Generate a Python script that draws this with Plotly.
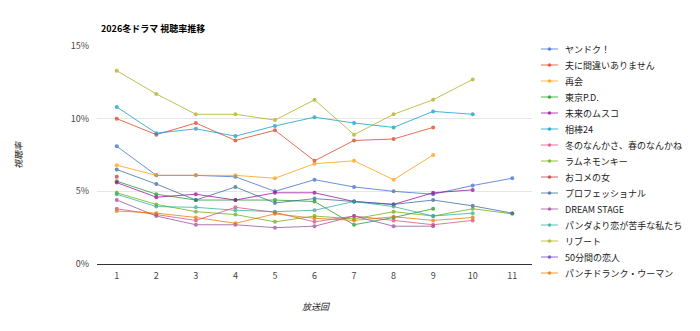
import plotly.graph_objects as go

episodes = list(range(1, 12))

names = ["ヤンドク！", "夫に間違いありません", "再会", "東京P.D.", "未来のムスコ", "相棒24",
         "冬のなんかさ、春のなんかね", "ラムネモンキー", "おコメの女", "プロフェッショナル",
         "DREAM STAGE", "パンダより恋が苦手な私たち", "リブート", "50分間の恋人", "パンチドランク・ウーマン"]

colors = ["#3366cc", "#dc3912", "#ff9900", "#109618", "#990099", "#0099c6",
          "#dd4477", "#66aa00", "#b82e2e", "#316395", "#994499", "#22aa99",
          "#aaaa11", "#6633cc", "#e67300"]

yandoku = [8.1, 6.1, 6.1, 6.0, 5.0, 5.8, 5.3, 5.0, 4.8, 5.4, 5.9]
otto = [10.0, 8.9, 9.7, 8.5, 9.2, 7.1, 8.5, 8.6, 9.4]
saikai = [6.8, 6.1, 6.1, 6.1, 5.9, 6.9, 7.1, 5.8, 7.5]
tokyo_pd = [5.7, 4.8, 4.4, 4.4, 4.4, 4.3, 2.7, 3.2, 3.8]
mirai = [5.6, 4.6, 4.8, 4.4, 4.9, 4.9, 4.3, 4.1, 4.9, 5.1]
aibou = [10.8, 9.0, 9.3, 8.8, 9.5, 10.1, 9.7, 9.4, 10.5, 10.3]
fuyu = [3.8, 3.4, 3.0, 3.9, 3.55, 2.9, 3.3, 3.0, 2.7, 3.0]
ramune = [4.9, 4.1, 3.6, 3.4, 2.9, 3.3, 3.1, 3.6, 3.3, 3.8, 3.45]
okome = [6.0]
pro = [6.5, 5.5, 4.4, 5.3, 4.2, 4.5, 4.3, 4.1, 4.4, 4.0, 3.5]
dream = [4.4, 3.3, 2.7, 2.7, 2.5, 2.6, 3.3, 2.6, 2.6]
panda = [4.8, 3.95, 3.9, 3.7, 3.6, 3.7, 4.3, 3.95, 3.3, 3.5]
reboot = [13.3, 11.7, 10.3, 10.3, 9.9, 11.3, 8.9, 10.3, 11.3, 12.7]
fifty = []
punch = [3.65, 3.5, 3.2, 2.8, 3.45, 3.15, 3.0, 3.25, 3.0, 3.2]

series = [yandoku, otto, saikai, tokyo_pd, mirai, aibou, fuyu, ramune, okome,
          pro, dream, panda, reboot, fifty, punch]

y_ticks = [0, 5, 10, 15]
y_tick_labels = ["0%", "5%", "10%", "15%"]

FONT = "Noto Sans CJK JP, Noto Sans, sans-serif"
W, H = 700, 331
ML, MR, MT, MB = 97, 168, 46, 67
PW, PH = W - ML - MR, H - MT - MB


def px_x(px):
    return (px - ML) / PW


def px_y(py):
    return (H - MB - py) / PH


fig = go.Figure()
for name, color, vals in zip(names, colors, series):
    fig.add_trace(go.Scatter(
        x=episodes[:len(vals)], y=vals, name=name, mode="lines+markers",
        line=dict(color=color, width=1), marker=dict(color=color, size=4),
        opacity=0.72, showlegend=False,
    ))

shapes = []
annotations = []
for i, (name, color) in enumerate(zip(names, colors)):
    yc = 49 + 16 * i
    shapes.append(dict(type="line", xref="paper", yref="paper",
                       x0=px_x(541), x1=px_x(558), y0=px_y(yc), y1=px_y(yc),
                       line=dict(color=color, width=1), opacity=0.72))
    shapes.append(dict(type="circle", xref="paper", yref="paper",
                       x0=px_x(548), x1=px_x(551), y0=px_y(yc - 1.5), y1=px_y(yc + 1.5),
                       fillcolor=color, line=dict(color=color, width=0.5), opacity=0.72))
    annotations.append(dict(text=name, xref="paper", yref="paper", x=px_x(563), y=px_y(yc),
                            xanchor="left", yanchor="middle", showarrow=False,
                            font=dict(family=FONT, size=9, color="#222222")))

annotations.append(dict(text="<b>2026冬ドラマ 視聴率推移</b>", xref="paper", yref="paper",
                        x=px_x(99), y=px_y(28), xanchor="left", yanchor="middle",
                        showarrow=False, font=dict(family=FONT, size=9, color="#000000")))
annotations.append(dict(text="<i>放送回</i>", xref="paper", yref="paper",
                        x=px_x(316), y=px_y(306), xanchor="center", yanchor="middle",
                        showarrow=False, font=dict(family=FONT, size=9, color="#222222")))
annotations.append(dict(text="<i>視聴率</i>", xref="paper", yref="paper",
                        x=px_x(18), y=px_y(155), xanchor="center", yanchor="middle",
                        textangle=-90, showarrow=False,
                        font=dict(family=FONT, size=9, color="#222222")))

fig.update_layout(
    width=W, height=H,
    margin=dict(l=ML, r=MR, t=MT, b=MB, pad=0),
    paper_bgcolor="white", plot_bgcolor="white",
    font=dict(family=FONT, size=9, color="#444444"),
    shapes=shapes, annotations=annotations,
    xaxis=dict(range=[0.5, 11.5], tickmode="array", tickvals=episodes,
               ticktext=[str(e) for e in episodes], showgrid=False, zeroline=False,
               showline=False, ticks="", ticklabelstandoff=5,
               tickfont=dict(family=FONT, size=9, color="#444444")),
    yaxis=dict(range=[0, 15], tickmode="array", tickvals=y_ticks, ticktext=y_tick_labels,
               showgrid=True, gridcolor="#e6e6e6", gridwidth=1,
               zeroline=True, zerolinecolor="#333333", zerolinewidth=1,
               showline=False, ticks="", ticklabelstandoff=7,
               tickfont=dict(family=FONT, size=9, color="#444444")),
)

fig.write_html("out.html")
